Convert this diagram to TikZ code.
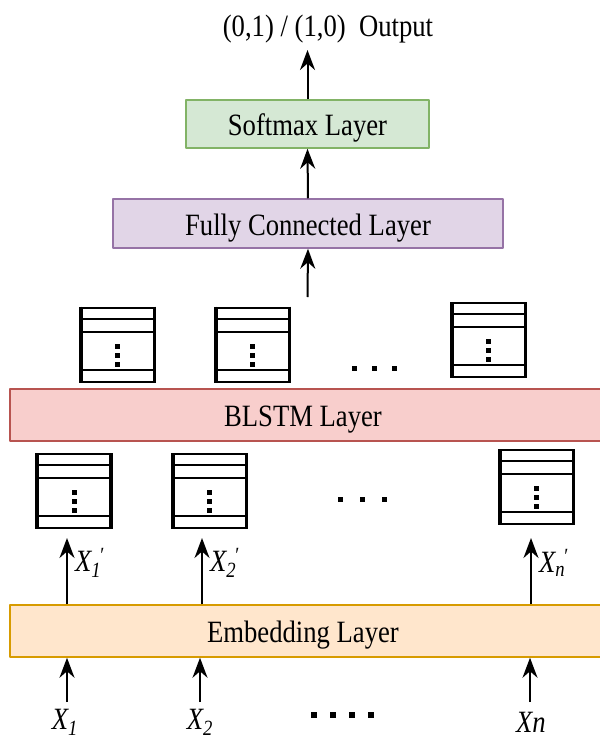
\documentclass[tikz,border=0pt]{standalone}
\usepackage{fontspec}
\setmainfont[FakeStretch=0.86]{Liberation Serif}
\usetikzlibrary{arrows.meta}
\definecolor{smfill}{HTML}{D5E8D4}
\definecolor{smdraw}{HTML}{82B366}
\definecolor{fcfill}{HTML}{E1D5E7}
\definecolor{fcdraw}{HTML}{9673A6}
\definecolor{blfill}{HTML}{F8CECC}
\definecolor{bldraw}{HTML}{B85450}
\definecolor{emfill}{HTML}{FFE6CC}
\definecolor{emdraw}{HTML}{D79B00}
\tikzset{
	layer/.style={draw,line width=1.5pt,inner sep=0pt,text height=23pt,text depth=0pt,font=\fontsize{31}{31}\selectfont},
	cellbox/.style={draw,line width=2pt,minimum width=72pt,minimum height=74pt,inner sep=0pt},
	lbl/.style={inner sep=0pt,font=\fontsize{31}{31}\selectfont\itshape}
}
% one memory cell icon: name, centre
\newcommand{\cellicon}[2]{%
	\node[cellbox] (#1) at (#2) {};
	\draw[line width=3.5pt] (#1.north west)--(#1.south west) (#1.north east)--(#1.south east);
	\draw[line width=2pt]
	([yshift=-12pt]#1.north west)--([yshift=-12pt]#1.north east)
	([yshift=-25pt]#1.north west)--([yshift=-25pt]#1.north east)
	([yshift=13pt]#1.south west)--([yshift=13pt]#1.south east);
	\foreach \d in {37,46,55}
	\fill ([xshift=-2.5pt,yshift=-\d pt]#1.north) rectangle ++(5pt,-5pt);
}
\newcommand{\xp}[1]{X\textsubscript{#1}\kern-1pt\textsuperscript{\upshape\char"2032}}
\begin{document}
\begin{tikzpicture}[>={Stealth[length=20pt,width=15pt]},x=1pt,y=-1pt,line join=round]
	\useasboundingbox (0,0) rectangle (600,742);
	% layers
	\node[layer,fill=smfill,draw=smdraw,minimum width=243pt,minimum height=48pt] (sm) at (307.5,124) {Softmax Layer};
	\node[layer,fill=fcfill,draw=fcdraw,minimum width=390pt,minimum height=49pt] (fc) at (308,223.5) {Fully Connected Layer};
	\node[layer,fill=blfill,draw=bldraw,minimum width=594pt,minimum height=52pt] (bl) at (307,415) {\hspace*{-8pt}BLSTM Layer};
	\node[layer,fill=emfill,draw=emdraw,minimum width=594pt,minimum height=52pt] (em) at (307,631) {\hspace*{-8pt}Embedding Layer};
	\node[inner sep=0pt,font=\fontsize{31}{31}\selectfont] (out) at (328,29) {(0,1) / (1,0)\ \ Output};
	% arrows between layers
	\coordinate (o) at (307.5,50);
	\coordinate (b) at (307.5,297);
	\draw[->,line width=2pt] (sm.north)--(o);
	\draw[->,line width=2pt] (fc.north)--(sm.south);
	\draw[->,line width=2pt] (b)--(fc.south);
	% cells
	\foreach \n/\p in {c1/{117.5,344.5},c2/{252.5,344.5},c3/{488.5,340},
		d1/{74,491},d2/{209.5,491},d3/{536.5,487}}
	{\cellicon{\n}{\p}}
	\foreach \x in {352,372,392} \fill (\x,366) rectangle ++(5,5);
	\foreach \x in {338,360,382} \fill (\x,497) rectangle ++(5,5);
	\foreach \x in {311,330,349,368} \fill (\x,712) rectangle ++(6,6);
	% embedded inputs
	\foreach \n/\x/\t in {1/67/1,2/202/2,3/531/n}
	{
		\coordinate (t\n) at (\x,538);
		\draw[->,line width=2pt] (t\n |- em.north)--(t\n);
		\node[lbl,anchor=west] (e\n) at (\x+8,563) {\xp{\t}};
	}
	% inputs
	\node[lbl] (x1) at (65,722) {X\textsubscript{1}};
	\node[lbl] (x2) at (200,722) {X\textsubscript{2}};
	\node[lbl] (x3) at (531,722) {Xn};
	\foreach \n/\x in {1/67,2/200,3/530}
	\draw[->,line width=2pt] (\x,702)--(em.south -| \x,0);
\end{tikzpicture}
\end{document}
